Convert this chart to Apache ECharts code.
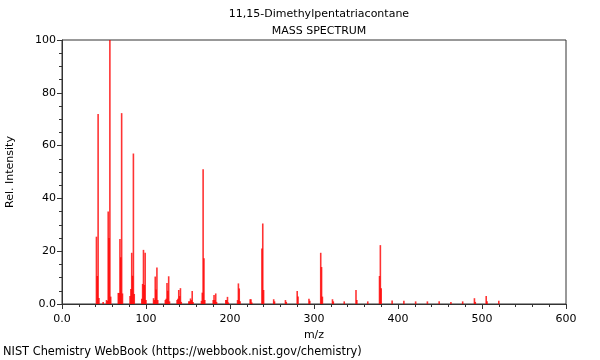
<!DOCTYPE html>
<html>
<head>
<meta charset="utf-8">
<script src="https://cdn.jsdelivr.net/npm/echarts@6/dist/echarts.min.js"></script>
<style>
html,body{margin:0;padding:0;background:#fff;}
#chart{width:600px;height:360px;}
</style>
</head>
<body>
<div id="chart"></div>
<script>
var titleText = "11,15-Dimethylpentatriacontane";
var subtitleText = "MASS SPECTRUM";
var xAxisName = "m/z";
var yAxisName = "Rel. Intensity";
var footerText = "NIST Chemistry WebBook (https://webbook.nist.gov/chemistry)";

var mz = [41,42,43,44,49,53,54,55,56,57,58,67,68,69,70,71,72,81,82,83,84,85,86,
  95,96,97,98,99,100,109,110,111,112,113,114,123,124,125,126,127,128,
  137,138,139,140,141,142,151,152,153,154,155,156,166,167,168,169,170,
  180,181,182,183,184,195,196,197,198,209,210,211,212,224,225,226,
  238,239,240,252,253,266,267,280,281,294,295,308,309,310,322,323,336,
  350,351,364,378,379,380,393,407,421,435,449,463,477,491,492,505,506,520];
var intensity = [25.5,10.6,72,2.3,0.8,1.5,1.2,35,25,100,2.8,4.2,4.2,24.6,17.7,72.3,4,3,5.7,19.4,10.7,57,3.8,
  2,7.6,20.5,7.2,19.4,1.5,2.2,1.5,10.4,5.5,13.8,1.5,1.5,2,8,5,10.5,1,
  1.5,2,5.3,3,6,0.8,1,1,2.1,1.5,4.9,0.8,1.2,4.3,51,17.3,1.5,
  1.5,3.4,1.5,4,0.8,1.5,1.5,2.7,0.6,1.5,7.8,5.9,1,1.8,1.8,0.6,
  21,30.5,5.3,1.8,1,1.5,0.8,4.9,2.8,2,1.2,19.4,14,2.8,1.8,1,1,
  5.3,1.5,1,10.6,22.3,6,1.3,1.2,1,1,1,0.8,1,2.2,0.8,3,1,1.2];

var xTicks = {min:0, max:600, interval:100};
var yTicks = {min:0, max:100, interval:20};

var data = mz.map(function(m,i){ return [m, intensity[i]]; });
var fmt = function(v){ return v === 0 ? '0.0' : String(v); };
var font = 'DejaVu Sans';

var chart = echarts.init(document.getElementById('chart'), null, {renderer:'canvas'});
chart.setOption({
  animation:false,
  backgroundColor:'#fff',
  textStyle:{fontFamily:font},
  title:[
    {text:titleText, left:314, top:4, textAlign:'center',
     textStyle:{fontFamily:font,fontSize:11,fontWeight:'normal',color:'#000'}},
    {text:subtitleText, left:314, top:21, textAlign:'center',
     textStyle:{fontFamily:font,fontSize:11,fontWeight:'normal',color:'#000'}}
  ],
  grid:{left:62, right:34, top:40, bottom:56, containLabel:false, outerBoundsMode:'none',
        show:true, borderColor:'#333', borderWidth:1, backgroundColor:'transparent'},
  xAxis:{
    type:'value', min:xTicks.min, max:xTicks.max, interval:xTicks.interval,
    name:xAxisName, nameLocation:'middle', nameGap:25,
    nameTextStyle:{fontFamily:font,fontSize:11,color:'#000'},
    axisLine:{show:true,onZero:false,lineStyle:{color:'#333',width:1}},
    axisTick:{show:true,inside:false,length:5,lineStyle:{color:'#333'}},
    minorTick:{show:true,splitNumber:5,length:3,lineStyle:{color:'#333'}},
    splitLine:{show:false},
    axisLabel:{formatter:fmt,fontFamily:font,fontSize:11,color:'#000',margin:10}
  },
  yAxis:{
    type:'value', min:yTicks.min, max:yTicks.max, interval:yTicks.interval,
    name:yAxisName, nameLocation:'middle', nameGap:46,
    nameTextStyle:{fontFamily:font,fontSize:11,color:'#000'},
    axisLine:{show:true,lineStyle:{color:'#333',width:1}},
    axisTick:{show:true,inside:false,length:5,lineStyle:{color:'#333'}},
    minorTick:{show:true,splitNumber:4,length:3,lineStyle:{color:'#333'}},
    splitLine:{show:false},
    axisLabel:{formatter:fmt,fontFamily:font,fontSize:11,color:'#000',margin:6}
  },
  series:[{
    type:'bar', data:data, barWidth:1.6, barGap:'-100%',
    itemStyle:{color:'rgba(255,0,0,0.8)'},
    silent:true
  }],
  graphic:[{
    type:'text', left:3, top:347,
    style:{text:footerText, font:'11.4px "DejaVu Sans"', fill:'#000'}
  }]
});
</script>
</body>
</html>
